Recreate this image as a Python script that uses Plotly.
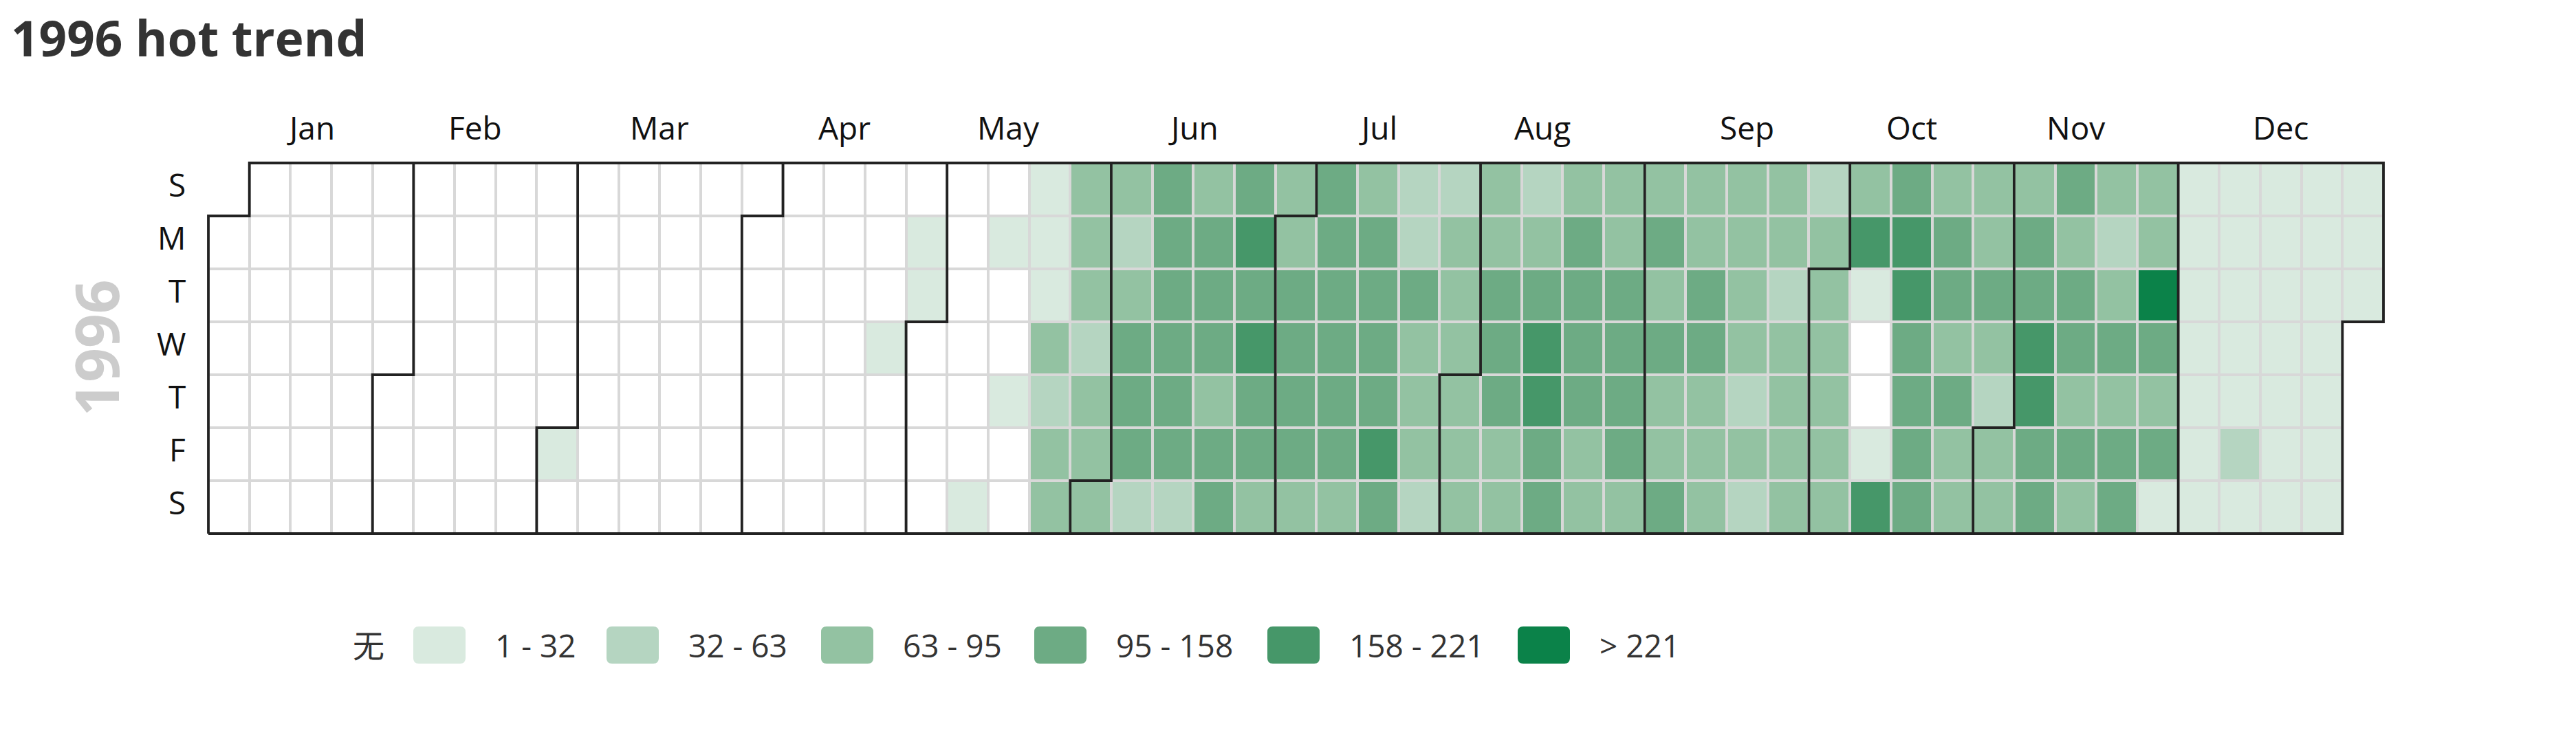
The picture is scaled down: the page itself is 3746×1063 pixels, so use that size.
import datetime as dt
import numpy as np
import plotly.graph_objects as go

# ---------------- data ----------------
YEAR = 1996
TITLE = "1996 hot trend"
MONTH_LABELS = ["Jan", "Feb", "Mar", "Apr", "May", "Jun",
                "Jul", "Aug", "Sep", "Oct", "Nov", "Dec"]
DAY_LABELS = ["S", "M", "T", "W", "T", "F", "S"]
PIECE_LABELS = ["无", "1 - 32", "32 - 63", "63 - 95", "95 - 158", "158 - 221", "> 221"]
PIECE_LOWER = [1, 32, 63, 95, 158, 221]
PIECE_COLORS = ["#ffffff", "#d9eadf", "#b5d5c1", "#93c2a2", "#6dab84", "#469769", "#0b8249"]

jan = [0, 0, 0, 0, 0, 0, 0, 0, 0, 0, 0, 0, 0, 0, 0, 0, 0, 0, 0, 0,
       0, 0, 0, 0, 0, 0, 0, 0, 0, 0, 0]
feb = [0, 0, 0, 0, 0, 0, 0, 0, 0, 0, 0, 0, 0, 0, 0, 0, 0, 0, 0, 0,
       0, 0, 0, 0, 0, 0, 0, 0, 0]
mar = [21, 0, 0, 0, 0, 0, 0, 0, 0, 0, 0, 0, 0, 0, 0, 0, 0, 0, 0, 0,
       0, 0, 0, 0, 0, 0, 0, 0, 0, 0, 0]
apr = [0, 0, 0, 0, 0, 0, 0, 0, 0, 0, 0, 0, 0, 0, 0, 0, 0, 0, 0, 0,
       0, 0, 0, 14, 0, 0, 0, 0, 9, 17]
may = [0, 0, 0, 0, 0, 0, 0, 0, 0, 0, 12, 0, 7, 0, 0, 19, 0, 0, 24, 16,
       27, 74, 48, 81, 69, 86, 77, 72, 55, 83, 91]
jun = [88, 79, 44, 93, 126, 138, 117, 59, 131, 142, 119, 124, 109, 136, 51,
       85, 127, 122, 133, 89, 114, 141, 118, 184, 129, 177, 121, 106, 76, 82]
jul = [73, 113, 125, 132, 116, 80, 104, 137, 128, 145, 120, 111, 87, 92, 123,
       139, 115, 130, 189, 108, 49, 42, 102, 84, 79, 90, 53, 46, 75, 88, 70]
aug = [78, 83, 68, 86, 77, 127, 118, 135, 74, 89, 58, 81, 122, 171, 186,
       140, 110, 91, 124, 129, 116, 137, 79, 72, 85, 87, 121, 112, 133, 119, 76]
sep = [82, 126, 73, 131, 88, 80, 114, 77, 84, 117, 128, 90, 71, 86, 79,
       83, 74, 92, 47, 81, 54, 75, 87, 50, 78, 85, 69, 89, 43, 82]
oct_ = [76, 84, 80, 73, 91, 87, 192, 22, 0, 0, 13, 181, 123, 174, 198,
        132, 118, 127, 109, 83, 136, 120, 86, 125, 78, 90, 81, 74, 129, 88, 52]
nov = [85, 79, 72, 134, 121, 187, 179, 115, 138, 126, 84, 130, 117, 89, 142,
       77, 86, 46, 81, 124, 92, 113, 128, 75, 83, 243, 119, 87, 135, 26]
dec = [18, 23, 15, 27, 11, 20, 24, 16, 29, 13, 21, 19, 44, 25, 17, 22,
       28, 14, 26, 12, 20, 23, 18, 10, 27, 15, 21, 24, 19, 25, 16]

MONTHS = [jan, feb, mar, apr, may, jun, jul, aug, sep, oct_, nov, dec]

# ---------------- layout constants ----------------
W, H = 3746, 1063
CAL_L, CAL_R, CAL_T, CAL_B = 303, 3466, 237, 776
FONT = "Open Sans, Noto Sans CJK SC, sans-serif"
GRID_COLOR = "#d8d8d8"
SPLIT_COLOR = "#222222"

# ---------------- calendar geometry ----------------
values = np.array([v for m in MONTHS for v in m], dtype=float)
start = dt.date(YEAR, 1, 1)
n_days = len(values)
offset = (start.weekday() + 1) % 7          # Sunday = row 0


def cell(day_index):
    k = day_index + offset
    return k // 7, k % 7


ncols = cell(n_days - 1)[0] + 1

cls_grid = np.full((7, ncols), np.nan)
base_grid = np.full((7, ncols), np.nan)
date_grid = np.full((7, ncols), "", dtype=object)
val_grid = np.full((7, ncols), np.nan)
classes = np.digitize(values, PIECE_LOWER)
for i in range(n_days):
    c, r = cell(i)
    cls_grid[r, c] = classes[i]
    base_grid[r, c] = 1
    date_grid[r, c] = (start + dt.timedelta(days=i)).isoformat()
    val_grid[r, c] = values[i]

# discrete colorscale
npieces = len(PIECE_COLORS)
colorscale = []
for k, col in enumerate(PIECE_COLORS):
    colorscale.append([k / npieces, col])
    colorscale.append([(k + 1) / npieces, col])

# margins & axis ranges
PADPX = 3
ml, mr = CAL_L - PADPX, W - CAL_R - PADPX
mt, mb = CAL_T - PADPX, H - CAL_B - PADPX
plot_w, plot_h = W - ml - mr, H - mt - mb
x_per_px = ncols / (CAL_R - CAL_L)
y_per_px = 7 / (CAL_B - CAL_T)
x_range = [-0.5 - PADPX * x_per_px, ncols - 0.5 + PADPX * x_per_px]
y_range = [7 - 0.5 + PADPX * y_per_px, -0.5 - PADPX * y_per_px]


def px(x):
    return (x - ml) / plot_w


def py(y):
    return 1 - (y - mt) / plot_h


def boundary(day_index):
    c, r = cell(day_index)
    if r == 0:
        return [(c - 0.5, -0.5), (c - 0.5, 6.5)]
    return [(c + 0.5, -0.5), (c + 0.5, r - 0.5), (c - 0.5, r - 0.5), (c - 0.5, 6.5)]


month_first = []
idx = 0
for m in MONTHS:
    month_first.append(idx)
    idx += len(m)

lx, ly = [], []
start_path = boundary(0)
end_path = boundary(n_days)
outline = list(reversed(start_path)) + end_path + [start_path[-1]]
for p in outline:
    lx.append(p[0]); ly.append(p[1])
lx.append(None); ly.append(None)
for f in month_first[1:]:
    for p in boundary(f):
        lx.append(p[0]); ly.append(p[1])
    lx.append(None); ly.append(None)

fig = go.Figure()
fig.add_trace(go.Heatmap(
    z=base_grid, x=list(range(ncols)), y=list(range(7)),
    colorscale=[[0, GRID_COLOR], [1, GRID_COLOR]], showscale=False,
    hoverinfo="skip", xgap=0, ygap=0))
fig.add_trace(go.Heatmap(
    z=cls_grid, x=list(range(ncols)), y=list(range(7)),
    zmin=0, zmax=npieces,
    colorscale=colorscale, showscale=False, xgap=4, ygap=4,
    customdata=np.dstack([date_grid, val_grid]),
    hovertemplate="%{customdata[0]}: %{customdata[1]}<extra></extra>"))
fig.add_trace(go.Scatter(
    x=lx, y=ly, mode="lines", line=dict(color=SPLIT_COLOR, width=3.8),
    hoverinfo="skip", showlegend=False))

ann = []
# title
ann.append(dict(text="<b>" + TITLE + "</b>", x=px(14), y=py(54), xref="paper", yref="paper",
                xanchor="left", yanchor="middle", showarrow=False,
                font=dict(family=FONT, size=71, color="#333333")))
# month labels
for mi, f in enumerate(month_first):
    last = f + len(MONTHS[mi]) - 1
    c0, c1 = cell(f)[0], cell(last)[0]
    ann.append(dict(text=MONTH_LABELS[mi], x=(c0 + c1) / 2, y=py(185), xref="x", yref="paper",
                    xanchor="center", yanchor="middle", showarrow=False,
                    font=dict(family=FONT, size=46, color="#111111")))
# day labels
for r, lab in enumerate(DAY_LABELS):
    ann.append(dict(text=lab, x=px(272), y=r, xref="paper", yref="y", yshift=8,
                    xanchor="right", yanchor="middle", showarrow=False,
                    font=dict(family=FONT, size=46, color="#111111")))
# year label
ann.append(dict(text="<b>%d</b>" % YEAR, x=px(138), y=3, xref="paper", yref="y",
                xanchor="center", yanchor="middle", textangle=-90, showarrow=False,
                font=dict(family=FONT, size=87, color="#cccccc")))

# legend (visualMap pieces)
LEG_X = [394, 601, 882, 1194, 1504, 1843, 2207]
LEG_Y = 938
BOX_W, BOX_H, RAD, TEXT_GAP = 76, 54, 8, 44
shapes = []
for k, lab in enumerate(PIECE_LABELS):
    x0, x1 = LEG_X[k], LEG_X[k] + BOX_W
    y0, y1 = LEG_Y - BOX_H / 2, LEG_Y + BOX_H / 2
    pts = [("M", x0 + RAD, y0), ("L", x1 - RAD, y0), ("Q", x1, y0, x1, y0 + RAD),
           ("L", x1, y1 - RAD), ("Q", x1, y1, x1 - RAD, y1), ("L", x0 + RAD, y1),
           ("Q", x0, y1, x0, y1 - RAD), ("L", x0, y0 + RAD), ("Q", x0, y0, x0 + RAD, y0)]
    path = ""
    for p in pts:
        if p[0] == "Q":
            path += "Q%.5f,%.5f %.5f,%.5f " % (px(p[1]), py(p[2]), px(p[3]), py(p[4]))
        else:
            path += "%s%.5f,%.5f " % (p[0], px(p[1]), py(p[2]))
    path += "Z"
    shapes.append(dict(type="path", path=path, xref="paper", yref="paper",
                       fillcolor=PIECE_COLORS[k], line=dict(width=0), layer="above"))
    ann.append(dict(text=lab, x=px(x1 + TEXT_GAP - 3), y=py(LEG_Y), xref="paper", yref="paper",
                    xanchor="left", yanchor="middle", showarrow=False,
                    font=dict(family=FONT, size=46, color="#333333")))

fig.update_layout(
    width=W, height=H, margin=dict(l=ml, r=mr, t=mt, b=mb, pad=0),
    paper_bgcolor="white", plot_bgcolor="white",
    xaxis=dict(range=x_range, visible=False, fixedrange=True),
    yaxis=dict(range=y_range, visible=False, fixedrange=True),
    annotations=ann, shapes=shapes, showlegend=False,
)

fig.write_html("out.html")
